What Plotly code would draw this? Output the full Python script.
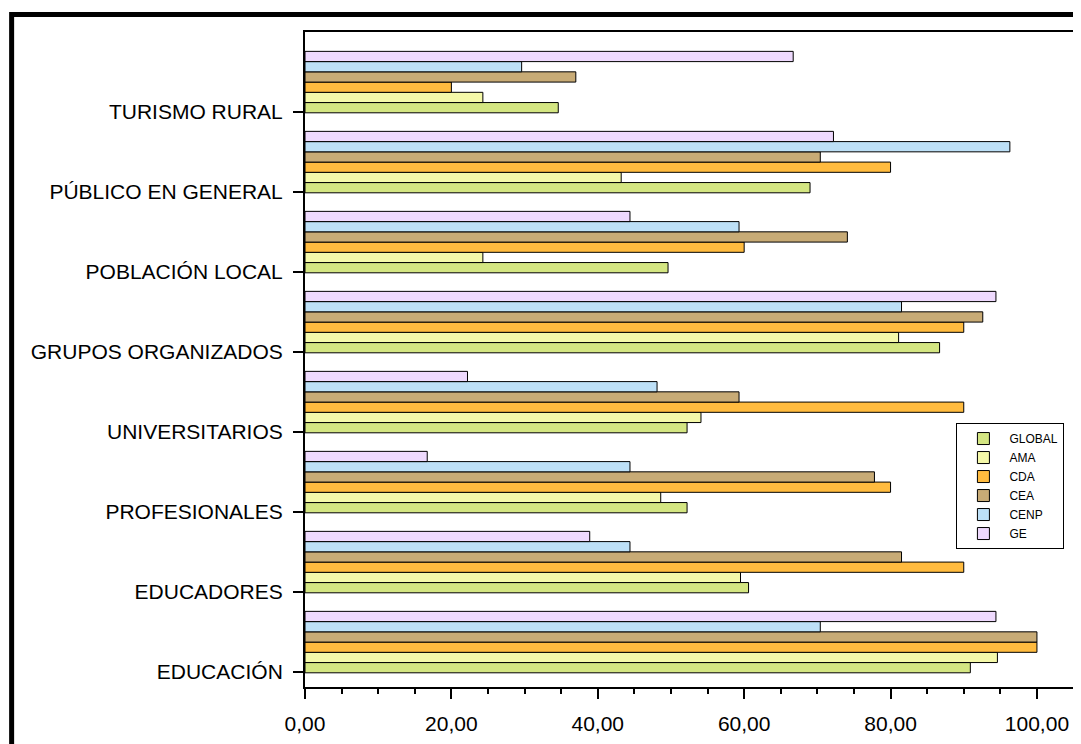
import plotly.graph_objects as go

categories = ["EDUCACIÓN", "EDUCADORES", "PROFESIONALES", "UNIVERSITARIOS",
              "GRUPOS ORGANIZADOS", "POBLACIÓN LOCAL", "PÚBLICO EN GENERAL", "TURISMO RURAL"]

series_names = ["GLOBAL", "AMA", "CDA", "CEA", "CENP", "GE"]

global_vals = [90.9, 60.6, 52.2, 52.2, 86.7, 49.6, 69.0, 34.6]
ama_vals = [94.6, 59.5, 48.6, 54.1, 81.1, 24.3, 43.2, 24.3]
cda_vals = [100.0, 90.0, 80.0, 90.0, 90.0, 60.0, 80.0, 20.0]
cea_vals = [100.0, 81.5, 77.8, 59.3, 92.6, 74.1, 70.4, 37.0]
cenp_vals = [70.4, 44.4, 44.4, 48.1, 81.5, 59.3, 96.3, 29.6]
ge_vals = [94.4, 38.9, 16.7, 22.2, 94.4, 44.4, 72.2, 66.7]

series_values = [global_vals, ama_vals, cda_vals, cea_vals, cenp_vals, ge_vals]
colors = ["#d4e682", "#f5f9a9", "#ffbb3f", "#c8ab76", "#bde0f7", "#eed9fd"]

x_ticks = [0, 20, 40, 60, 80, 100]

W = 0.128
fig = go.Figure()
for i, (name, vals, col) in enumerate(zip(series_names, series_values, colors)):
    fig.add_trace(go.Bar(
        y=categories, x=vals, name=name, orientation="h",
        width=W, offset=-0.01 + i * W,
        marker=dict(color=col, line=dict(color="black", width=1)),
    ))

fig.update_layout(
    width=1073, height=736,
    margin=dict(l=297, r=4, t=24, b=57),
    paper_bgcolor="white", plot_bgcolor="white",
    barmode="overlay",
    separators=",.",
    font=dict(family="Liberation Sans, Arial, sans-serif", color="black", size=21),
    showlegend=True,
    legend=dict(
        x=0.846, y=0.403, xanchor="left", yanchor="top",
        bgcolor="white", bordercolor="black", borderwidth=1,
        font=dict(size=12, color="black"),
        traceorder="normal", itemwidth=42,
    ),
)
fig.update_xaxes(
    range=[0, 105.2], tickvals=x_ticks, tickformat=".2f",
    showgrid=False, zeroline=False,
    showline=True, linecolor="black", linewidth=2, mirror=True,
    ticks="outside", ticklen=10, tickwidth=2, tickcolor="black",
    minor=dict(dtick=5, ticks="outside", ticklen=5, tickwidth=1.5, tickcolor="black"),
    tickfont=dict(size=21), ticklabelstandoff=7,
)
fig.update_yaxes(
    type="category", categoryorder="array", categoryarray=categories,
    range=[-0.1875, 8.0],
    showgrid=False, zeroline=False,
    showline=True, linecolor="black", linewidth=2, mirror=True,
    ticks="outside", ticklen=10, tickwidth=2, tickcolor="black",
    tickfont=dict(size=21), ticklabelstandoff=6,
)

# outer frame
fig.add_shape(type="rect", xref="paper", yref="paper",
              x0=-0.381, x1=1.0026, y0=-0.3, y1=1.0267,
              line=dict(color="black", width=5), layer="above")

fig.write_html("out.html")
